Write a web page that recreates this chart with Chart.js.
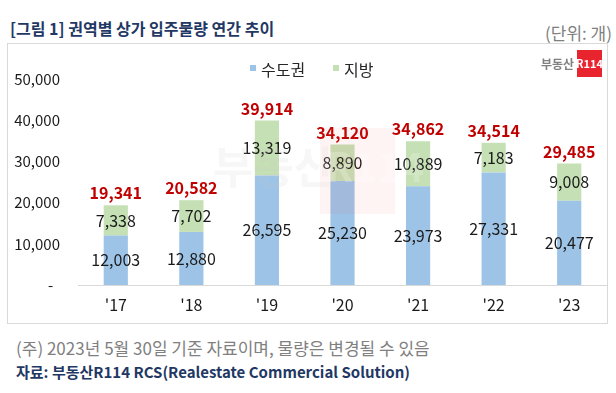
<!DOCTYPE html>
<html>
<head>
<meta charset="utf-8">
<script src="https://cdn.jsdelivr.net/npm/chart.js@4.4.0/dist/chart.umd.min.js"></script>
<style>
  body { margin: 0; background: #fff; font-family: 'Noto Sans CJK KR', 'Noto Sans', sans-serif; }
  #wrap { position: relative; width: 616px; height: 393px; overflow: hidden; }
  .title { position: absolute; left: 10px; top: 17px; font-size: 16px; font-weight: bold; color: #1f3864; line-height: 22px; }
  .unit { position: absolute; right: 4px; top: 22px; font-size: 17px; color: #808080; line-height: 22px; }
  #box { position: absolute; left: 7px; top: 43px; width: 599px; height: 279px; border: 1px solid #d9d9d9; }
  .note { position: absolute; left: 16px; top: 337px; font-size: 17px; color: #808080; line-height: 22px; }
  .src { position: absolute; left: 16px; top: 361px; font-size: 15px; font-weight: bold; color: #1f3864; line-height: 22px; }
</style>
</head>
<body>
<div id="wrap">
  <div class="title">[그림 1] 권역별 상가 입주물량 연간 추이</div>
  <div class="unit">(단위: 개)</div>
  <div id="box"><canvas id="chart" width="599" height="279"></canvas></div>
  <div class="note">(주) 2023년 5월 30일 기준 자료이며, 물량은 변경될 수 있음</div>
  <div class="src">자료: 부동산R114 RCS(Realestate Commercial Solution)</div>
</div>
<script>
const years = ["'17", "'18", "'19", "'20", "'21", "'22", "'23"];
const capital = [12003, 12880, 26595, 25230, 23973, 27331, 20477];   // 수도권
const regional = [7338, 7702, 13319, 8890, 10889, 7183, 9008];       // 지방
const totals = [19341, 20582, 39914, 34120, 34862, 34514, 29485];
const yMax = 50000;
const yStep = 10000;

const FONT = "'Noto Sans CJK KR', 'Noto Sans', sans-serif";
const fmt = v => v.toLocaleString('en-US');

// labels inside segments + totals on top
const labelPlugin = {
  id: 'labels',
  afterDatasetsDraw(chart) {
    const ctx = chart.ctx;
    ctx.save();
    ctx.textAlign = 'center';
    ctx.textBaseline = 'middle';
    ctx.font = '16px ' + FONT;
    ctx.fillStyle = '#1a1a1a';
    chart.data.datasets.forEach((ds, di) => {
      chart.getDatasetMeta(di).data.forEach((bar, i) => {
        const mid = (bar.y + bar.base) / 2;
        ctx.fillText(fmt(ds.data[i]), bar.x, mid);
      });
    });
    ctx.font = 'bold 16px ' + FONT;
    ctx.fillStyle = '#c00000';
    const top = chart.getDatasetMeta(1).data;
    top.forEach((bar, i) => {
      ctx.fillText(fmt(totals[i]), bar.x, bar.y - 12);
    });
    ctx.restore();
  }
};

// watermark, legend and logo
const decoPlugin = {
  id: 'deco',
  afterDatasetsDraw(chart) {
    const ctx = chart.ctx;
    ctx.save();
    // faint watermark
    ctx.fillStyle = 'rgba(255, 60, 60, 0.06)';
    ctx.fillRect(312, 84, 75, 86);
    ctx.font = 'bold 44px ' + FONT;
    ctx.textBaseline = 'middle';
    ctx.textAlign = 'left';
    ctx.fillStyle = 'rgba(200, 200, 200, 0.14)';
    ctx.fillText('부동산', 205, 123);
    ctx.font = 'bold 40px ' + FONT;
    ctx.fillStyle = 'rgba(255, 255, 255, 0.22)';
    ctx.fillText('R114', 318, 123);
    ctx.restore();
  },
  afterDraw(chart) {
    const ctx = chart.ctx;
    ctx.save();
    // legend
    ctx.textBaseline = 'middle';
    ctx.textAlign = 'left';
    ctx.font = '16px ' + FONT;
    const items = [[242, 0], [325, 1]];
    items.forEach(([x, di]) => {
      const ds = chart.data.datasets[di];
      ctx.fillStyle = ds.backgroundColor;
      ctx.fillRect(x, 21, 6, 6);
      ctx.fillStyle = '#262626';
      ctx.fillText(ds.label, x + 11, 26);
    });
    // logo
    ctx.font = 'bold 12px ' + FONT;
    ctx.textAlign = 'right';
    ctx.fillStyle = '#808080';
    ctx.fillText('부동산', 566, 20);
    ctx.fillStyle = '#e8242e';
    ctx.fillRect(569, 6, 25, 27);
    ctx.fillStyle = '#fff';
    ctx.textAlign = 'center';
    ctx.font = 'bold 11px ' + FONT;
    ctx.fillText('R114', 581.5, 20);
    ctx.restore();
  }
};

new Chart(document.getElementById('chart'), {
  type: 'bar',
  data: {
    labels: years,
    datasets: [
      { label: '수도권', data: capital, backgroundColor: '#9dc3e6' },
      { label: '지방', data: regional, backgroundColor: '#c5e0b4' }
    ]
  },
  options: {
    responsive: false,
    animation: false,
    layout: { padding: { top: 35, right: 0, bottom: 0, left: 0 } },
    datasets: { bar: { barPercentage: 0.32, categoryPercentage: 1 } },
    plugins: { legend: { display: false }, tooltip: { enabled: false } },
    scales: {
      x: {
        stacked: true,
        afterFit: s => { s.height = 38; },
        grid: { display: false, drawTicks: false },
        border: { display: true, color: '#d9d9d9', width: 1 },
        ticks: { color: '#1a1a1a', font: { family: FONT, size: 16 }, padding: 10 }
      },
      y: {
        stacked: true,
        min: 0,
        max: yMax,
        afterFit: s => { s.width = 70; },
        grid: { display: false, drawTicks: false },
        border: { display: false },
        ticks: {
          stepSize: yStep,
          color: '#1a1a1a',
          font: { family: FONT, size: 15 },
          padding: 18,
          callback: v => v === 0 ? '-  ' : fmt(v)
        }
      }
    }
  },
  plugins: [labelPlugin, decoPlugin]
});
</script>
</body>
</html>
